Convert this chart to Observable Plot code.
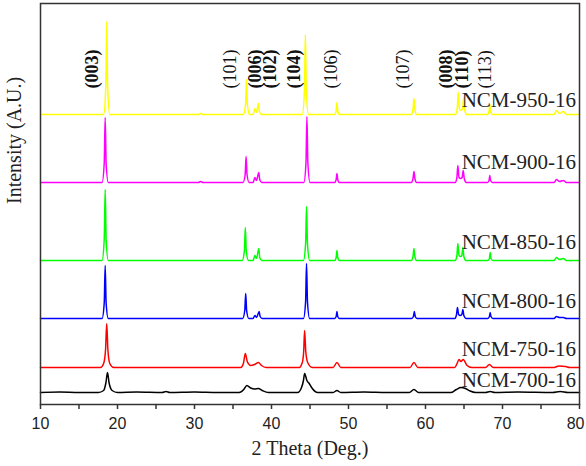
<!DOCTYPE html>
<html>
<head>
<meta charset="utf-8">
<script src="https://cdn.jsdelivr.net/npm/d3@7"></script>
<script src="https://cdn.jsdelivr.net/npm/@observablehq/plot@0.6"></script>
<style>
  html, body { margin: 0; padding: 0; background: #fff; }
  #chart { width: 586px; height: 466px; }
</style>
</head>
<body>
<div id="chart"></div>
<script>
// XRD patterns of NCM calcined at 700–950 °C for 16 h, stacked with vertical offsets.
// Each pattern: [2θ (deg), intensity above its own baseline (a.u.)]
const ncm950 = [
  [10,0],[18.2,0],[18.48,28],[18.6,93],[18.72,28],[19.0,0],
  [30.5,0],[30.8,1],[31.1,0],
  [36.35,0],[36.63,10],[36.75,35],[36.87,10],[37.15,0],
  [37.6,0],[37.85,6],[38.05,2],[38.3,11],[38.42,3],[38.7,0],
  [44.0,0],[44.28,24],[44.4,80],[44.52,24],[44.8,0],
  [48.2,0],[48.4,4],[48.5,12],[48.6,4],[48.8,0],
  [58.15,0],[58.38,5],[58.5,16],[58.62,5],[58.85,0],
  [63.9,0],[64.13,7],[64.25,22],[64.4,6],[64.6,4],[64.82,6],[64.95,17],[65.08,5],[65.35,0],
  [68.05,0],[68.25,3],[68.35,10],[68.45,3],[68.7,0],
  [76.7,0],[77.0,4],[77.4,1],[77.9,3],[78.3,0],[80,0]
];
const ncm900 = [
  [10,0],[18.0,0],[18.28,20],[18.4,65],[18.52,20],[18.8,0],
  [30.5,0],[30.8,1],[31.1,0],
  [36.3,0],[36.58,8],[36.7,26],[36.82,8],[37.1,0],
  [37.6,0],[37.85,5],[38.05,2],[38.35,10],[38.47,3],[38.75,0],
  [44.2,0],[44.48,20],[44.6,66],[44.72,20],[45.0,0],
  [48.2,0],[48.4,3],[48.5,9],[48.6,3],[48.8,0],
  [58.15,0],[58.38,4],[58.5,11],[58.62,4],[58.85,0],
  [63.85,0],[64.08,5],[64.2,17],[64.35,5],[64.55,4],[64.75,5],[64.9,12],[65.03,4],[65.3,0],
  [68.05,0],[68.25,2],[68.35,7],[68.45,2],[68.7,0],
  [76.7,0],[77.0,3],[77.4,1],[77.9,2],[78.3,0],[80,0]
];
const ncm850 = [
  [10,0],[18.0,0],[18.28,22],[18.4,71],[18.52,22],[18.8,0],
  [36.2,0],[36.48,10],[36.6,33],[36.72,10],[37.0,0],
  [37.6,0],[37.85,5],[38.05,2],[38.35,12],[38.47,3],[38.75,0],
  [44.15,0],[44.43,17],[44.55,54],[44.67,17],[44.95,0],
  [48.2,0],[48.4,3],[48.5,10],[48.6,3],[48.8,0],
  [58.15,0],[58.38,4],[58.5,12],[58.62,4],[58.85,0],
  [63.85,0],[64.08,5],[64.2,17],[64.35,5],[64.55,4],[64.72,5],[64.85,13],[64.98,4],[65.25,0],
  [68.1,0],[68.3,2],[68.4,8],[68.5,2],[68.75,0],
  [76.7,0],[77.0,3],[77.4,1],[77.9,2],[78.3,0],[80,0]
];
const ncm800 = [
  [10,0],[18.0,0],[18.28,16],[18.4,53],[18.52,16],[18.8,0],
  [36.25,0],[36.53,8],[36.65,25],[36.77,8],[37.05,0],
  [37.6,0],[37.85,3],[38.05,1],[38.4,7],[38.52,2],[38.8,0],
  [44.15,0],[44.43,17],[44.55,55],[44.67,17],[44.95,0],
  [48.2,0],[48.4,2],[48.5,7],[48.6,2],[48.8,0],
  [58.2,0],[58.43,2],[58.55,7],[58.67,2],[58.9,0],
  [63.8,0],[64.03,4],[64.15,11],[64.3,4],[64.5,3],[64.72,4],[64.85,9],[64.98,3],[65.25,0],
  [68.1,0],[68.3,2],[68.4,6],[68.5,2],[68.75,0],
  [76.7,0],[77.0,2],[77.4,1],[77.9,1],[78.3,0],[80,0]
];
const ncm750 = [
  [10,0],[17.8,0],[18.2,4],[18.45,18],[18.6,44],[18.75,18],[19.0,4],[19.5,0],
  [36.0,0],[36.35,4],[36.6,14],[36.85,6],[37.3,2],[37.8,3],[38.3,5],[38.7,2],[39.3,0],
  [43.6,0],[44.0,5],[44.18,16],[44.3,37],[44.45,16],[44.7,5],[45.3,0],
  [48.0,0],[48.5,5],[49.0,0],
  [58.0,0],[58.5,5],[59.0,0],
  [63.8,0],[64.1,4],[64.35,8],[64.6,6],[64.9,8],[65.4,2],[66.0,0],
  [67.8,0],[68.3,3],[68.8,0],
  [76.7,0],[77.3,1.5],[78.2,1],[78.7,0],[80,0]
];
const ncm700 = [
  [10,0],[12.5,0.5],[15,0],[17.5,0],[18.2,2],[18.5,10],[18.7,20],[18.9,10],[19.3,2],[20,0],
  [22.5,0.5],[25.8,0],[26.3,1],[26.8,0],[30,0.5],[33,0],
  [35.8,0],[36.4,3],[36.8,7],[37.3,4.5],[37.8,3.5],[38.3,4],[38.8,2],[39.6,0],
  [43.4,0],[43.9,5],[44.15,12],[44.3,19],[44.6,12],[44.9,9],[45.3,4],[46,0],
  [48,0],[48.5,2],[49,0],[52,0.5],[55,0],
  [57.9,0],[58.5,3],[59.1,0],
  [63.3,0],[64.0,3],[64.6,5],[65.2,4],[65.8,1.5],[66.5,0],
  [67.8,0],[68.4,1],[69,0],[72,0.5],
  [76.5,0],[77.5,1],[78.5,0],[80,0]
];

// Stacking order, offsets, colours and name labels
const sampleNames = ["NCM-950-16", "NCM-900-16", "NCM-850-16", "NCM-800-16", "NCM-750-16", "NCM-700-16"];
const patterns    = [ncm950, ncm900, ncm850, ncm800, ncm750, ncm700];
const offsets     = [290, 222, 144, 86, 37, 12];
const lineColors  = ["#ffff00", "#ff00ff", "#00ff00", "#0000ff", "#ff0000", "#000000"];
const nameLabelY  = [298, 236, 156, 97, 49, 18];
const nameLabelX  = 64.7;

// Miller-index annotations
const hklLabels = ["(003)", "(101)", "(006)", "(102)", "(104)", "(106)", "(107)", "(008)", "(110)", "(113)"];
const hklX      = [16.75, 34.7, 37.95, 39.9, 43.0, 47.7, 57.15, 62.75, 64.8, 67.8];
const hklBold   = [true, false, true, true, true, false, false, true, true, false];
const hklY      = 316;

// Axis ticks: every 5°, labelled every 10°
const xTicks      = d3.range(10, 81, 5);
const xTickLabels = [10, 20, 30, 40, 50, 60, 70, 80];

const serif = "'Liberation Serif', 'Times New Roman', serif";
const sans = "'Liberation Sans', Arial, sans-serif";

const rows = patterns.flatMap((p, i) =>
  p.map(([t, c]) => ({sample: sampleNames[i], t, v: c + offsets[i]})));

const hkl = hklLabels.map((text, i) => ({text, x: hklX[i], bold: hklBold[i]}));
const names = sampleNames.map((name, i) => ({name, y: nameLabelY[i]}));
const lastTick = xTickLabels[xTickLabels.length - 1];

const chart = Plot.plot({
  width: 586,
  height: 466,
  marginLeft: 40,
  marginRight: 7,
  marginTop: 3,
  marginBottom: 62,
  style: {fontFamily: sans, background: "#fff", color: "#222"},
  x: {domain: [10, 80], label: null},
  y: {domain: [0, 401], axis: null},
  color: {domain: sampleNames, range: lineColors},
  marks: [
    Plot.line(rows, {x: "t", y: "v", z: "sample", stroke: "sample", strokeWidth: 1.5, curve: "monotone-x"}),
    Plot.text(hkl.filter(d => d.bold), {x: "x", y: () => hklY, text: "text", rotate: -90, textAnchor: "start",
      lineAnchor: "middle", fontSize: 18, fontWeight: "bold", fontFamily: serif, fill: "#111"}),
    Plot.text(hkl.filter(d => !d.bold), {x: "x", y: () => hklY, text: "text", rotate: -90, textAnchor: "start",
      lineAnchor: "middle", fontSize: 18, fontFamily: serif, fill: "#111"}),
    Plot.text(names, {x: () => nameLabelX, y: "y", text: "name", textAnchor: "start", lineAnchor: "bottom",
      fontSize: 21, fontFamily: serif, fill: "#222"}),
    Plot.frame({stroke: "#333", strokeWidth: 1.5}),
    Plot.axisX({ticks: xTicks, tickSize: 5, strokeWidth: 1.5, stroke: "#333", tickFormat: () => "", label: null}),
    // tick labels; the last one is pulled inward so it stays on the page
    Plot.text(xTickLabels.filter(d => d !== lastTick), {x: d => d, text: d => String(d), frameAnchor: "bottom",
      lineAnchor: "top", dy: 13, fontSize: 16, fontFamily: sans, fill: "#222"}),
    Plot.text([lastTick], {x: d => d, text: d => String(d), frameAnchor: "bottom", textAnchor: "end",
      lineAnchor: "top", dy: 13, dx: 5, fontSize: 16, fontFamily: sans, fill: "#222"}),
    Plot.text(["2 Theta (Deg.)"], {frameAnchor: "bottom", dy: 50, fontSize: 20, fontFamily: serif, fill: "#222"}),
    Plot.text(["Intensity (A.U.)"], {frameAnchor: "left", dx: -26, dy: 0, rotate: -90, fontSize: 20,
      fontFamily: serif, fill: "#222"})
  ]
});

document.getElementById("chart").appendChild(chart);
</script>
</body>
</html>
